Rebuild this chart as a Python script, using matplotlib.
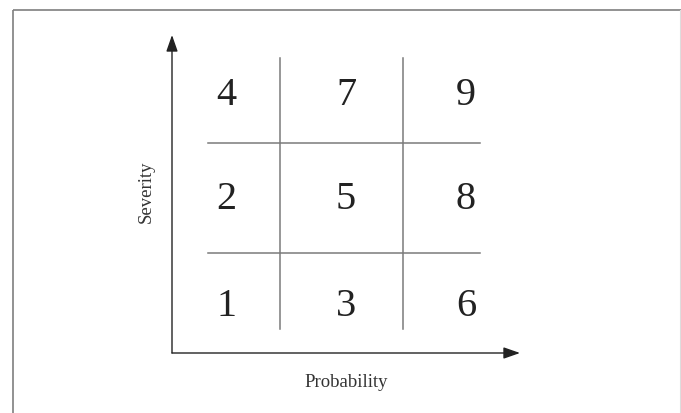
import matplotlib
matplotlib.use("Agg")
import matplotlib.pyplot as plt

# ---- data ----
risk_grid = [[4, 7, 9],   # top row (high severity)
             [2, 5, 8],
             [1, 3, 6]]   # bottom row (low severity)
x_label = "Probability"
y_label = "Severity"

# ---- layout (pixel coordinates) ----
W, H = 681, 414
col_x = [226, 346, 466]
row_baseline = [105.5, 209, 316]
vlines_x = [280, 403]
vline_y = (59, 330)
hlines_y = [143.5, 254]
hline_x = (208, 480)
origin = (172, 354)
x_tip = 520
y_tip = 36

plt.rcParams['font.family'] = ['Liberation Serif', 'DejaVu Serif']

fig = plt.figure(figsize=(W / 100, H / 100), dpi=100)
ax = fig.add_axes([0, 0, 1, 1])
ax.set_xlim(0, W)
ax.set_ylim(H, 0)
ax.axis('off')

# frame
ax.plot([13, 13], [10.5, H], color='#7f7f7f', lw=1.2, solid_capstyle='butt')
ax.plot([13, W], [10.5, 10.5], color='#7f7f7f', lw=1.2, solid_capstyle='butt')
ax.plot([680, 680], [10.5, H], color='#dddddd', lw=0.8)

# grid
for x in vlines_x:
    ax.plot([x, x], vline_y, color='#7a7a7a', lw=1.1)
for y in hlines_y:
    ax.plot(hline_x, [y, y], color='#7a7a7a', lw=1.1)

# axes arrows
arrow = dict(arrowstyle='-|>,head_length=1.0,head_width=0.35', color='#222222',
             lw=1.0, shrinkA=0, shrinkB=0)
ax.annotate('', xy=(x_tip, origin[1]), xytext=origin, arrowprops=arrow)
ax.annotate('', xy=(origin[0], y_tip), xytext=origin, arrowprops=arrow)

# cell values
for r, row in enumerate(risk_grid):
    for c, val in enumerate(row):
        ax.text(col_x[c], row_baseline[r], str(val), fontsize=29, color='#222222',
                ha='center', va='baseline')

# axis labels
ax.text(346.5, 387, x_label, fontsize=13.5, color='#333333', ha='center', va='baseline')
ax.text(146, 192, y_label, fontsize=13.5, color='#333333', ha='center', va='center',
        rotation=90)

fig.savefig('out.png', dpi=100)
